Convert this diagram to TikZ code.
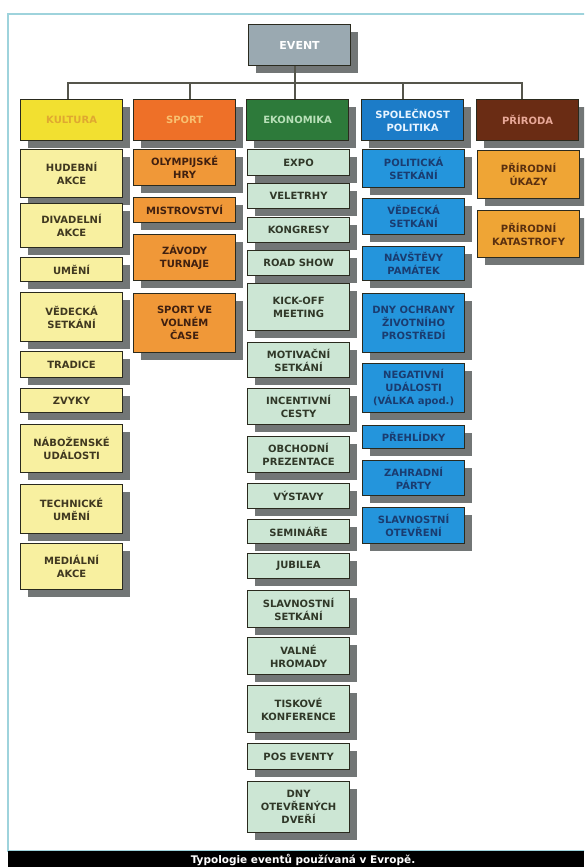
\documentclass[tikz,border=0pt]{standalone}
\usepackage{fontspec}
\setmainfont{DejaVu Sans}
\usetikzlibrary{shadows}
\definecolor{bordc}{HTML}{2A2A1E}
\definecolor{shadc}{HTML}{727676}
\definecolor{framec}{HTML}{9ED3DC}
\definecolor{eventc}{HTML}{9AA9B1}
\definecolor{kulc}{HTML}{F2E030}\definecolor{kult}{HTML}{E0A830}
\definecolor{sptc}{HTML}{EE7028}\definecolor{sptt}{HTML}{F8C070}
\definecolor{ekoc}{HTML}{2D7A3A}\definecolor{ekot}{HTML}{B8E0B8}
\definecolor{splc}{HTML}{1C7CC8}\definecolor{splt}{HTML}{E8F4FF}
\definecolor{pric}{HTML}{6A2C14}\definecolor{prit}{HTML}{E8A898}
\definecolor{k1}{HTML}{F8F0A0}\definecolor{k1t}{HTML}{403820}
\definecolor{k2}{HTML}{F09838}\definecolor{k2t}{HTML}{402010}
\definecolor{k3}{HTML}{CCE6D4}\definecolor{k3t}{HTML}{303828}
\definecolor{k4}{HTML}{2495DC}\definecolor{k4t}{HTML}{1A3C70}
\definecolor{k5}{HTML}{EFA535}\definecolor{k5t}{HTML}{5A3010}
\newcommand\Bx[6]{\node[#1, minimum height={#5-#4}] (#2) at (#3,#4) {#6};}
\begin{document}
\begin{tikzpicture}[x=1pt,y=-1pt,
  box/.style={draw=bordc, line width=1.2pt, align=center, inner sep=1pt,
    font=\bfseries\fontsize{10}{13}\selectfont,
    drop shadow={shadow xshift=7pt, shadow yshift=-7pt, fill=shadc, opacity=1},
    minimum width=102pt, anchor=north west},
  cat/.style={box},
  kid1/.style={box, fill=k1, text=k1t},
  kid2/.style={box, fill=k2, text=k2t},
  kid3/.style={box, fill=k3, text=k3t},
  kid4/.style={box, fill=k4, text=k4t},
  kid5/.style={box, fill=k5, text=k5t},
  conn/.style={draw=bordc!80, line width=1.3pt}]
\useasboundingbox (0,0) rectangle (584,867);
\clip (0,0) rectangle (584,867);
\fill[white] (0,0) rectangle (584,867);
\draw[framec, line width=1.5pt] (8,14) rectangle (600,851);
% root
\Bx{box, fill=eventc, text=white, font=\bfseries\fontsize{11}{13}\selectfont}{event}{248}{24}{65}{EVENT}
% categories
\Bx{cat, fill=kulc, text=kult}{kul}{20}{99}{140}{KULTURA}
\Bx{cat, fill=sptc, text=sptt}{spt}{133}{99}{140}{SPORT}
\Bx{cat, fill=ekoc, text=ekot}{eko}{246}{99}{140}{EKONOMIKA}
\Bx{cat, fill=splc, text=splt}{spl}{361}{99}{140}{SPOLEČNOST\\POLITIKA}
\Bx{cat, fill=pric, text=prit}{pri}{476}{99}{140}{PŘÍRODA}
\coordinate (s1) at (68,83);
\coordinate (s2) at (190,83);
\coordinate (s3) at (295,83);
\coordinate (s4) at (403,83);
\coordinate (s5) at (522,83);
\draw[conn] (event.south -| s3) -- (s3 |- eko.north);
\draw[conn] (s1 |- kul.north) -- (s1) -- (s5) -- (s5 |- pri.north);
\draw[conn] (s2) -- (s2 |- spt.north);
\draw[conn] (s4) -- (s4 |- spl.north);
% column 1
\Bx{kid1}{hud}{20}{149}{197}{HUDEBNÍ\\AKCE}
\Bx{kid1}{div}{20}{203}{247}{DIVADELNÍ\\AKCE}
\Bx{kid1}{ume}{20}{257}{281}{UMĚNÍ}
\Bx{kid1}{ved}{20}{292}{341}{VĚDECKÁ\\SETKÁNÍ}
\Bx{kid1}{tra}{20}{351}{377}{TRADICE}
\Bx{kid1}{zvy}{20}{388}{412}{ZVYKY}
\Bx{kid1}{nab}{20}{424}{472}{NÁBOŽENSKÉ\\UDÁLOSTI}
\Bx{kid1}{tec}{20}{484}{533}{TECHNICKÉ\\UMĚNÍ}
\Bx{kid1}{med}{20}{543}{589}{MEDIÁLNÍ\\AKCE}
% column 2
\Bx{kid2}{oly}{133}{149}{185}{OLYMPIJSKÉ\\HRY}
\Bx{kid2}{mis}{133}{197}{222}{MISTROVSTVÍ}
\Bx{kid2}{zav}{133}{234}{280}{ZÁVODY\\TURNAJE}
\Bx{kid2}{svc}{133}{293}{352}{SPORT VE\\VOLNÉM\\ČASE}
% column 3
\Bx{kid3}{exp}{247}{149}{175}{EXPO}
\Bx{kid3}{vel}{247}{183}{208}{VELETRHY}
\Bx{kid3}{kon}{247}{217}{242}{KONGRESY}
\Bx{kid3}{roa}{247}{250}{275}{ROAD SHOW}
\Bx{kid3}{kic}{247}{283}{330}{KICK-OFF\\MEETING}
\Bx{kid3}{mot}{247}{342}{377}{MOTIVAČNÍ\\SETKÁNÍ}
\Bx{kid3}{inc}{247}{388}{424}{INCENTIVNÍ\\CESTY}
\Bx{kid3}{obc}{247}{436}{472}{OBCHODNÍ\\PREZENTACE}
\Bx{kid3}{vys}{247}{483}{508}{VÝSTAVY}
\Bx{kid3}{sem}{247}{519}{543}{SEMINÁŘE}
\Bx{kid3}{jub}{247}{553}{578}{JUBILEA}
\Bx{kid3}{sla}{247}{590}{627}{SLAVNOSTNÍ\\SETKÁNÍ}
\Bx{kid3}{val}{247}{637}{674}{VALNÉ\\HROMADY}
\Bx{kid3}{tis}{247}{685}{732}{TISKOVÉ\\KONFERENCE}
\Bx{kid3}{pos}{247}{743}{769}{POS EVENTY}
\Bx{kid3}{dny}{247}{781}{832}{DNY\\OTEVŘENÝCH\\DVEŘÍ}
% column 4
\Bx{kid4}{pol}{362}{149}{187}{POLITICKÁ\\SETKÁNÍ}
\Bx{kid4}{vd2}{362}{198}{234}{VĚDECKÁ\\SETKÁNÍ}
\Bx{kid4}{nav}{362}{246}{280}{NÁVŠTĚVY\\PAMÁTEK}
\Bx{kid4}{och}{362}{293}{352}{DNY OCHRANY\\ŽIVOTNÍHO\\PROSTŘEDÍ}
\Bx{kid4}{neg}{362}{363}{412}{NEGATIVNÍ\\UDÁLOSTI\\(VÁLKA apod.)}
\Bx{kid4}{pre}{362}{425}{448}{PŘEHLÍDKY}
\Bx{kid4}{zah}{362}{460}{495}{ZAHRADNÍ\\PÁRTY}
\Bx{kid4}{ote}{362}{507}{543}{SLAVNOSTNÍ\\OTEVŘENÍ}
% column 5
\Bx{kid5}{uka}{477}{150}{198}{PŘÍRODNÍ\\ÚKAZY}
\Bx{kid5}{kat}{477}{210}{257}{PŘÍRODNÍ\\KATASTROFY}
% caption
\fill[black] (8,851) rectangle (584,867);
\node[text=white, font=\bfseries\fontsize{10.5}{12}\selectfont] (cap) at (303,859.5) {Typologie eventů používaná v Evropě.};
\end{tikzpicture}
\end{document}
